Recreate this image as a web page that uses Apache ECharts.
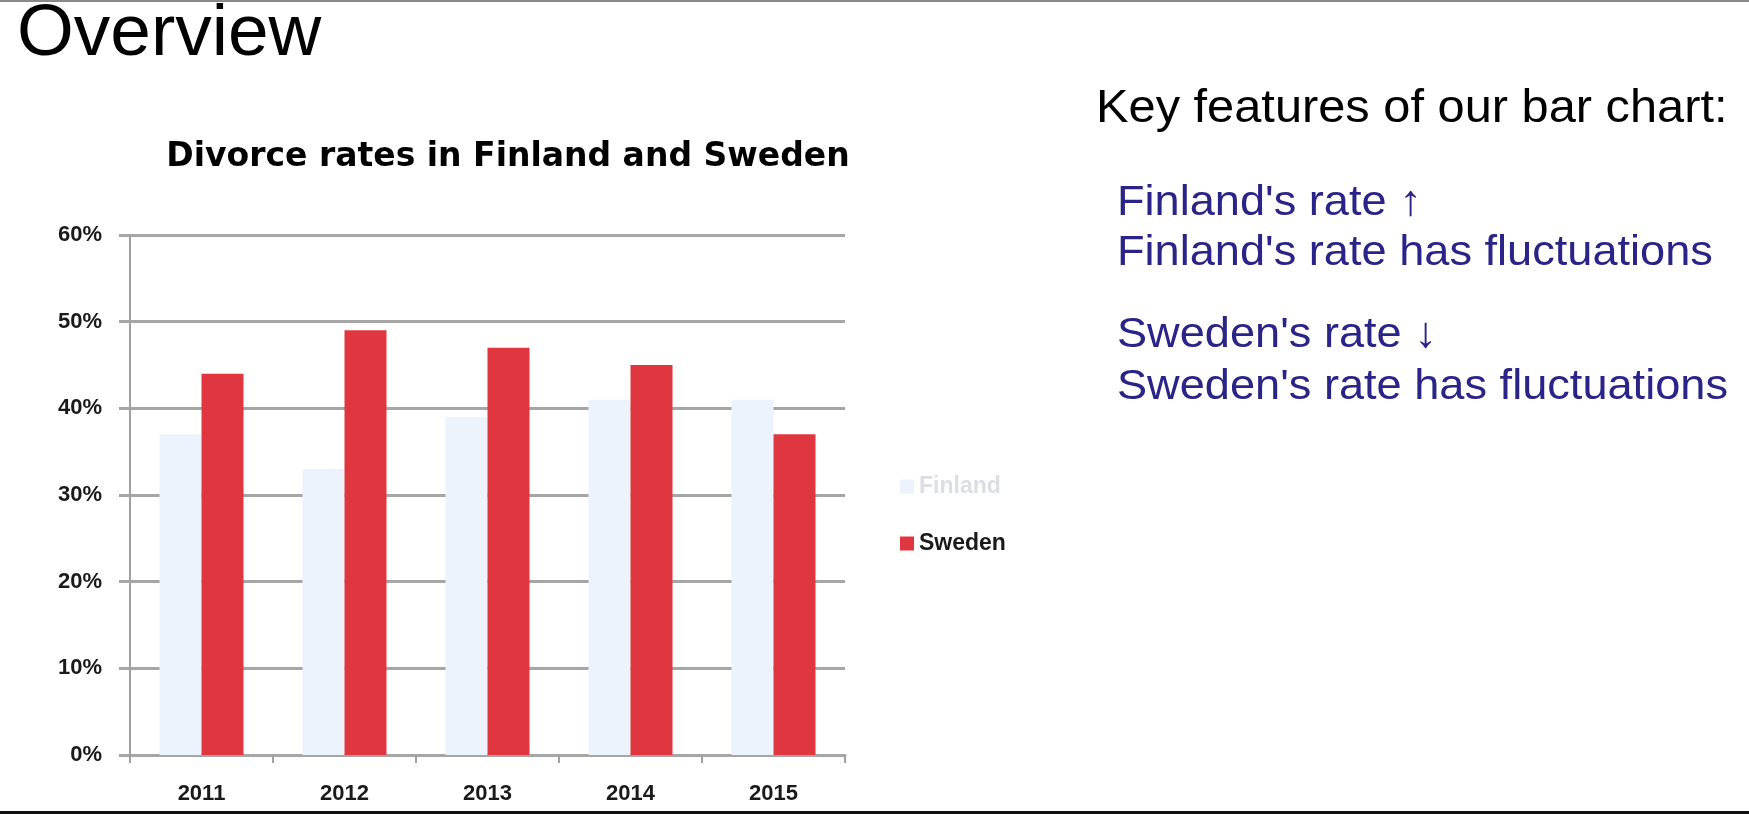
<!DOCTYPE html>
<html>
<head>
<meta charset="utf-8">
<script src="https://cdn.jsdelivr.net/npm/echarts@6/dist/echarts.min.js"></script>
<style>
html,body{margin:0;padding:0;background:#fff;}
#c{width:1749px;height:814px;}
</style>
</head>
<body>
<div id="c"></div>
<script>
const years = ['2011', '2012', '2013', '2014', '2015'];
const finland = [37, 33, 39, 41, 41];
const sweden = [44, 49, 47, 45, 37];
const seriesNames = ['Finland', 'Sweden'];
const chartTitle = 'Divorce rates in Finland and Sweden';
const slideTitle = 'Overview';
const keyHeading = 'Key features of our bar chart:';
const notes = [
  "Finland's rate \u2191",
  "Finland's rate has fluctuations",
  "Sweden's rate \u2193",
  "Sweden's rate has fluctuations"
];

const chart = echarts.init(document.getElementById('c'));
const noteBaselines = [203, 253, 335, 387];

const graphics = [
  { type: 'rect', shape: { x: 0, y: 0, width: 1749, height: 2 }, style: { fill: '#8a8a8a' } },
  { type: 'rect', shape: { x: 0, y: 811, width: 1749, height: 3 }, style: { fill: '#111' } },
  { type: 'text', x: 17, y: 35,
    style: { text: slideTitle, font: '400 73px "Liberation Sans"', fill: '#000', textAlign: 'left', verticalAlign: 'middle' } },
  { type: 'text', x: 1096, y: 109, scaleX: 1.06,
    style: { text: keyHeading, font: '400 46px "Liberation Sans"', fill: '#000', textAlign: 'left', verticalAlign: 'middle' } }
];
notes.forEach((t, i) => {
  graphics.push({ type: 'text', x: 1117, y: noteBaselines[i], scaleX: 1.05,
    style: { text: t, font: '400 43px "Liberation Sans"', fill: '#2a2388', textAlign: 'left', verticalAlign: 'middle' } });
});

chart.setOption({
  backgroundColor: '#fff',
  animation: false,
  title: {
    text: chartTitle,
    left: 503, top: 136,
    textAlign: 'center',
    textStyle: { fontFamily: 'DejaVu Sans', fontWeight: 'bold', fontSize: 33, color: '#000' }
  },
  legend: {
    orient: 'vertical',
    left: 895, top: 470,
    icon: 'rect',
    itemWidth: 14, itemHeight: 14,
    itemGap: 34,
    textStyle: { fontFamily: 'Liberation Sans', fontWeight: 'bold', fontSize: 23, color: '#222' },
    data: [
      { name: seriesNames[0], textStyle: { color: '#dcdee4' } },
      { name: seriesNames[1], textStyle: { color: '#1a1a1a' } }
    ]
  },
  grid: { left: 130, right: 904, top: 235, bottom: 59, containLabel: false },
  xAxis: {
    type: 'category',
    data: years,
    axisLine: { lineStyle: { color: '#a6a6a6', width: 3 } },
    axisTick: { show: true, length: 8, lineStyle: { color: '#a0a0a0', width: 2 } },
    axisLabel: { margin: 28, fontFamily: 'Liberation Sans', fontWeight: 'bold', fontSize: 22, color: '#1a1a1a' }
  },
  yAxis: {
    type: 'value',
    min: 0, max: 60, interval: 10,
    axisLine: { show: true, lineStyle: { color: '#a0a0a0', width: 2 } },
    axisTick: { show: true, length: 11, lineStyle: { color: '#a6a6a6', width: 3 } },
    splitLine: { lineStyle: { color: '#a6a6a6', width: 3 } },
    axisLabel: { margin: 28, padding: [8, 0, 0, 0], formatter: '{value}%', fontFamily: 'Liberation Sans', fontWeight: 'bold', fontSize: 22, color: '#1a1a1a' }
  },
  series: [
    { name: seriesNames[0], type: 'bar', data: finland, barWidth: 42, barGap: '0%',
      itemStyle: { color: '#ecf3fd' } },
    { name: seriesNames[1], type: 'bar', data: sweden, barWidth: 42, barGap: '0%',
      itemStyle: { color: '#e0363f' } }
  ],
  graphic: graphics
});
</script>
</body>
</html>
